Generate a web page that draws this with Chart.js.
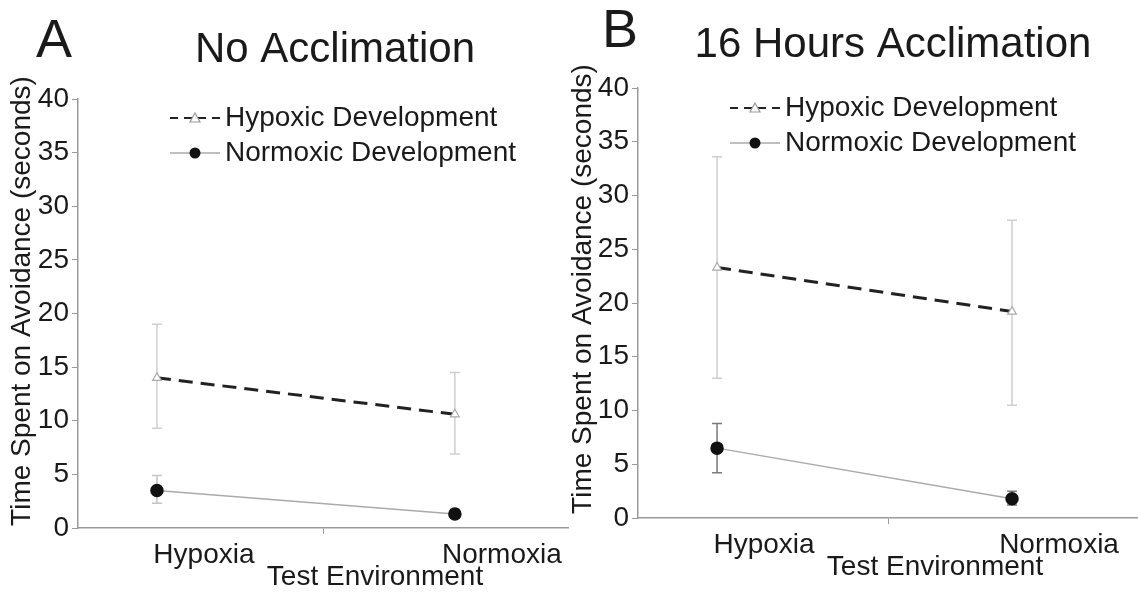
<!DOCTYPE html>
<html>
<head>
<meta charset="utf-8">
<script src="https://cdn.jsdelivr.net/npm/chart.js"></script>
<style>
  body { margin: 0; background: #fff; }
  #wrap { position: relative; width: 1138px; height: 592px; }
  canvas { position: absolute; top: 0; }
  #chartA { left: 0; }
  #chartB { left: 569px; }
</style>
</head>
<body>
<div id="wrap">
  <canvas id="chartA" width="569" height="592"></canvas>
  <canvas id="chartB" width="569" height="592"></canvas>
</div>
<script>
const categories = ['Hypoxia', 'Normoxia'];
const seriesNames = ['Hypoxic Development', 'Normoxic Development'];
const yTicks = { min: 0, max: 40, step: 5 };
const yTitle = 'Time Spent on Avoidance (seconds)';
const xTitle = 'Test Environment';

// panel A: no acclimation
const hypoxicA = [14.0, 10.6];
const hypoxicLowA = [9.3, 6.9];
const hypoxicHighA = [19.0, 14.5];
const normoxicA = [3.5, 1.3];
const normoxicLowA = [2.3, 0.9];
const normoxicHighA = [4.9, 1.8];

// panel B: 16 hours acclimation
const hypoxicB = [23.3, 19.2];
const hypoxicLowB = [13.0, 10.5];
const hypoxicHighB = [33.6, 27.7];
const normoxicB = [6.5, 1.8];
const normoxicLowB = [4.2, 1.2];
const normoxicHighB = [8.8, 2.5];

const FONT = '"Liberation Sans", Arial, sans-serif';
const TEXT = '#1a1a1a';
const AXIS = '#9a9a9a';

function toPoints(values) {
  return values.map((v, i) => ({ x: i + 1, y: v }));
}

// error bars, drawn behind the lines
const errorBars = {
  id: 'errorBars',
  beforeDatasetsDraw(chart) {
    const { ctx, scales: { x, y } } = chart;
    ctx.save();
    chart.data.datasets.forEach(ds => {
      ctx.strokeStyle = ds.errColor;
      ctx.lineWidth = 1.5;
      ds.low.forEach((lo, i) => {
        const px = x.getPixelForValue(i + 1);
        const y0 = y.getPixelForValue(lo);
        const y1 = y.getPixelForValue(ds.high[i]);
        ctx.beginPath();
        ctx.moveTo(px, y0); ctx.lineTo(px, y1);
        ctx.moveTo(px - 5, y0); ctx.lineTo(px + 5, y0);
        ctx.moveTo(px - 5, y1); ctx.lineTo(px + 5, y1);
        ctx.stroke();
      });
    });
    ctx.restore();
  }
};

// letter, heading, axis titles and the legend inside the plot
const panelText = {
  id: 'panelText',
  afterDraw(chart, args, o) {
    const { ctx, chartArea: a } = chart;
    ctx.save();
    ctx.fillStyle = TEXT;
    ctx.textBaseline = 'alphabetic';
    ctx.textAlign = 'left';
    ctx.font = `54px ${FONT}`;
    ctx.fillText(o.letter, o.letterX, o.letterY);
    ctx.textAlign = 'center';
    ctx.font = `42px ${FONT}`;
    ctx.fillText(o.heading, o.headingX, o.headingY);
    ctx.font = `28px ${FONT}`;
    ctx.fillText(xTitle, o.xTitleX, o.xTitleY);

    // legend
    const sx = a.left + 92, ex = a.left + 142, mx = a.left + 117, tx = a.left + 147;
    const rows = [a.top + o.legendTop, a.top + o.legendTop + 35];
    ctx.textAlign = 'left';
    ctx.textBaseline = 'middle';
    // hypoxic: dashed line with open triangle
    ctx.strokeStyle = '#222';
    ctx.lineWidth = 2;
    ctx.setLineDash([8, 6]);
    ctx.beginPath(); ctx.moveTo(sx, rows[0]); ctx.lineTo(ex, rows[0]); ctx.stroke();
    ctx.setLineDash([]);
    ctx.fillStyle = '#fff';
    ctx.strokeStyle = '#999';
    ctx.lineWidth = 1.2;
    ctx.beginPath();
    ctx.moveTo(mx, rows[0] - 5); ctx.lineTo(mx + 5, rows[0] + 4); ctx.lineTo(mx - 5, rows[0] + 4);
    ctx.closePath(); ctx.fill(); ctx.stroke();
    // normoxic: grey line with black dot
    ctx.strokeStyle = '#aaa';
    ctx.lineWidth = 1.5;
    ctx.beginPath(); ctx.moveTo(sx, rows[1]); ctx.lineTo(ex, rows[1]); ctx.stroke();
    ctx.fillStyle = '#111';
    ctx.beginPath(); ctx.arc(mx, rows[1], 5.5, 0, Math.PI * 2); ctx.fill();
    ctx.fillStyle = TEXT;
    ctx.font = `28px ${FONT}`;
    seriesNames.forEach((name, i) => ctx.fillText(name, tx, rows[i]));

    // y title
    ctx.translate(o.yTitleX, o.yTitleY);
    ctx.rotate(-Math.PI / 2);
    ctx.textAlign = 'center';
    ctx.fillText(yTitle, 0, 0);
    ctx.restore();
  }
};

function makePanel(id, p) {
  const mid = (p.xMin + p.xMax) / 2;
  return new Chart(document.getElementById(id), {
    type: 'line',
    data: {
      datasets: [
        {
          label: seriesNames[0],
          data: toPoints(p.hyp),
          low: p.hypLow, high: p.hypHigh, errColor: '#cfcfcf',
          borderColor: '#222',
          borderWidth: 3,
          borderDash: [14, 8],
          pointStyle: 'triangle',
          pointRadius: 5,
          pointBorderColor: '#aaa',
          pointBackgroundColor: '#fff',
          pointBorderWidth: 1.2,
        },
        {
          label: seriesNames[1],
          data: toPoints(p.nor),
          low: p.norLow, high: p.norHigh, errColor: p.norErrColor,
          borderColor: '#aaa',
          borderWidth: 1.5,
          pointStyle: 'circle',
          pointRadius: 6,
          pointBorderColor: '#111',
          pointBackgroundColor: '#111',
        },
      ],
    },
    options: {
      responsive: false,
      animation: false,
      layout: { autoPadding: false, padding: { top: p.top, left: 0, right: 0, bottom: 0 } },
      plugins: {
        legend: { display: false },
        tooltip: { enabled: false },
        panelText: p.text,
      },
      scales: {
        x: {
          type: 'linear',
          min: p.xMin,
          max: p.xMax,
          afterFit: s => { s.height = p.xHeight; s.paddingLeft = 0; s.paddingRight = 0; },
          afterBuildTicks: s => { s.ticks = [1, mid, 2].map(v => ({ value: v })); },
          border: { display: true, color: AXIS, width: 1.5 },
          grid: {
            drawOnChartArea: false,
            tickLength: 6,
            tickColor: c => (c.tick && c.tick.value === mid ? AXIS : 'rgba(0,0,0,0)'),
          },
          ticks: {
            autoSkip: false,
            maxRotation: 0,
            padding: 4,
            labelOffset: 47,
            color: TEXT,
            font: { family: FONT, size: 28 },
            callback: v => (Number.isInteger(v) ? categories[v - 1] : ''),
          },
        },
        y: {
          min: yTicks.min,
          max: yTicks.max,
          afterFit: s => { s.width = p.yWidth; },
          border: { display: true, color: AXIS, width: 1.5 },
          grid: { drawOnChartArea: false, tickLength: 6, tickColor: AXIS },
          ticks: {
            stepSize: yTicks.step,
            padding: 3,
            color: TEXT,
            font: { family: FONT, size: 28 },
          },
        },
      },
    },
    plugins: [errorBars, panelText],
  });
}

makePanel('chartA', {
  hyp: hypoxicA, hypLow: hypoxicLowA, hypHigh: hypoxicHighA,
  nor: normoxicA, norLow: normoxicLowA, norHigh: normoxicHighA,
  norErrColor: '#c4c4c4',
  top: 99, xHeight: 64, yWidth: 78, xMin: 0.735, xMax: 2.383,
  text: {
    letter: 'A', letterX: 36, letterY: 57,
    heading: 'No Acclimation', headingX: 335, headingY: 62,
    xTitleX: 375, xTitleY: 585,
    yTitleX: 22, yTitleY: 301,
    legendTop: 19,
  },
});

makePanel('chartB', {
  hyp: hypoxicB, hypLow: hypoxicLowB, hypHigh: hypoxicHighB,
  nor: normoxicB, norLow: normoxicLowB, norHigh: normoxicHighB,
  norErrColor: '#7a7a7a',
  top: 88, xHeight: 74, yWidth: 69, xMin: 0.732, xMax: 2.427,
  text: {
    letter: 'B', letterX: 33, letterY: 47,
    heading: '16 Hours Acclimation', headingX: 324, headingY: 57,
    xTitleX: 366, xTitleY: 575,
    yTitleX: 14, yTitleY: 289,
    legendTop: 20,
  },
});
</script>
</body>
</html>
